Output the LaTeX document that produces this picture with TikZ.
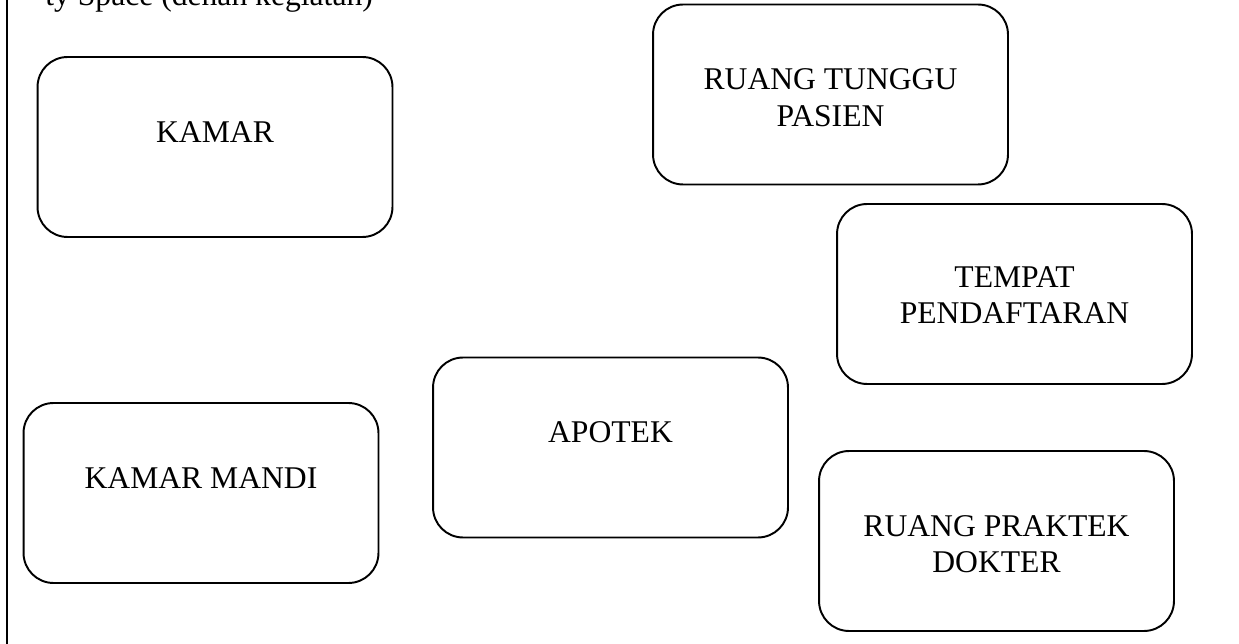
\documentclass[tikz,border=0pt]{standalone}
\usepackage{fontspec}
\setmainfont{Liberation Serif}
\usetikzlibrary{positioning}

\tikzset{
  ruang/.style={draw, line width=1.1pt, rounded corners=0.6cm, minimum width=7.1cm, minimum height=3.6cm, inner sep=0pt},
  nama/.style={inner sep=0pt, align=center, font=\fontsize{18pt}{20.8pt}\selectfont},
}

\begin{document}
\begin{tikzpicture}[x=0.02cm, y=-0.02cm]

  \useasboundingbox (0,0) rectangle (1239,644);
  \clip (0,0) rectangle (1239,644);

	%page border and cut heading
  \draw[line width=1.1pt] (7,-5) -- (7,650);
  \node[nama, anchor=base west] (judul) at (45,6) {ty Space (denah kegiatan)};

	%rooms
  \node[ruang] (kamar)   at (215,147)   {};
  \node[ruang] (tunggu)  at (830.5,94.5) {};
  \node[ruang] (daftar)  at (1014.5,294) {};
  \node[ruang] (apotek)  at (610.5,447.5) {};
  \node[ruang] (mandi)   at (201,493)   {};
  \node[ruang] (praktek) at (996.5,541) {};

	%names
  \node[nama, below=1.3cm of kamar.north]   (kamarT)   {KAMAR};
  \node[nama, below=1.3cm of tunggu.north]  (tungguT)  {RUANG TUNGGU\\PASIEN};
  \node[nama, below=1.26cm of daftar.north] (daftarT)  {TEMPAT\\PENDAFTARAN};
  \node[nama, below=1.3cm of apotek.north]  (apotekT)  {APOTEK};
  \node[nama, below=1.3cm of mandi.north]   (mandiT)   {KAMAR MANDI};
  \node[nama, below=1.3cm of praktek.north] (praktekT) {RUANG PRAKTEK\\DOKTER};

\end{tikzpicture}
\end{document}
